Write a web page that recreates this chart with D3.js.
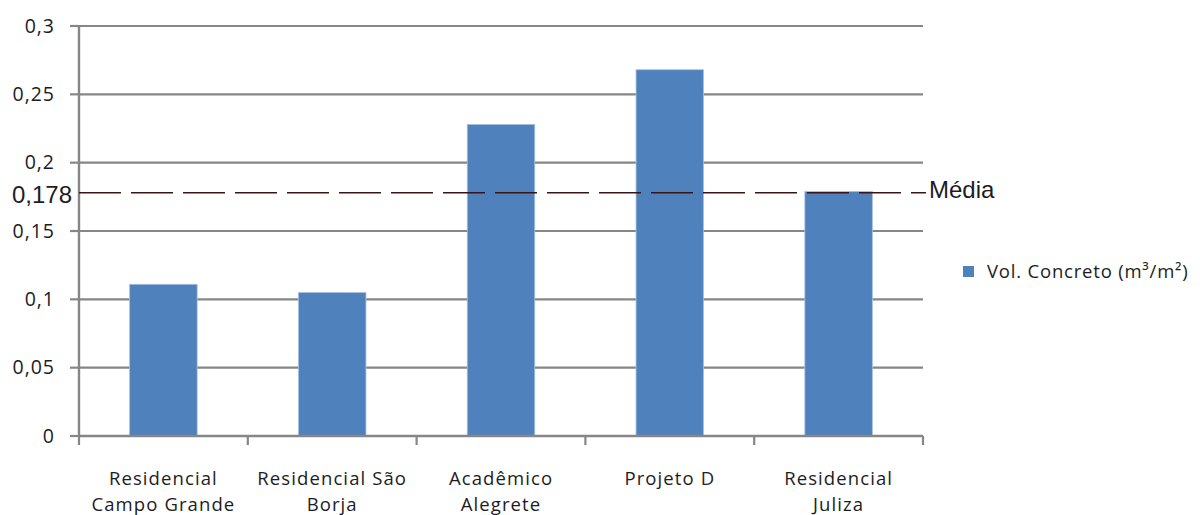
<!DOCTYPE html>
<html><head><meta charset="utf-8">
<script src="https://cdn.jsdelivr.net/npm/d3@7"></script>
<style>body{margin:0;background:#fff}svg{display:block}</style>
</head><body>
<svg id="c" width="1200" height="515"></svg>
<script>
const categories = [["Residencial","Campo Grande"],["Residencial São","Borja"],["Acadêmico","Alegrete"],["Projeto D"],["Residencial","Juliza"]];
const values = [0.111, 0.105, 0.228, 0.268, 0.179];
const yTicks = [0, 0.05, 0.1, 0.15, 0.2, 0.25, 0.3];
const yTickLabels = ["0","0,05","0,1","0,15","0,2","0,25","0,3"];
const meanValue = 0.178;
const meanLabel = "0,178";
const meanName = "Média";
const seriesName = "Vol. Concreto (m³/m²)";

const svg = d3.select("#c");
const L = 79, R = 923, T = 26, B = 436;
const x = d3.scaleBand().domain(d3.range(values.length)).range([L, R]).paddingInner(0.6).paddingOuter(0.3);
const y = d3.scaleLinear().domain([0, 0.3]).range([B, T]);
const gray = "#868686";
const font = "'Open Sans', Lato, sans-serif";
const txt = "#1c1c24";

// gridlines
svg.append("g").selectAll("line").data(yTicks.slice(1)).join("line")
  .attr("x1", L).attr("x2", R).attr("y1", d => y(d)).attr("y2", d => y(d))
  .attr("stroke", gray).attr("stroke-width", 2.2);

// y axis ticks
svg.append("g").selectAll("line").data(yTicks).join("line")
  .attr("x1", L - 9).attr("x2", L).attr("y1", d => y(d)).attr("y2", d => y(d))
  .attr("stroke", gray).attr("stroke-width", 2.2);
svg.append("g").selectAll("text").data(yTicks).join("text")
  .attr("x", 55).attr("y", d => y(d)).attr("dy", "0.35em")
  .attr("text-anchor", "end").attr("font-family", font).attr("font-size", 19.5)
  .attr("letter-spacing", 1).attr("fill", txt).text((d, i) => yTickLabels[i]);

// bars
svg.append("g").selectAll("rect").data(values).join("rect")
  .attr("x", (d, i) => x(i)).attr("width", x.bandwidth())
  .attr("y", d => y(d)).attr("height", d => B - y(d))
  .attr("fill", "#4F81BD").attr("stroke", "#a9c1e0").attr("stroke-width", 0.8);

// axes lines
svg.append("line").attr("x1", L).attr("x2", L).attr("y1", T - 1).attr("y2", B + 1)
  .attr("stroke", gray).attr("stroke-width", 2.4);
svg.append("line").attr("x1", L).attr("x2", R).attr("y1", B).attr("y2", B)
  .attr("stroke", gray).attr("stroke-width", 2.4);

// x ticks
const xt = d3.range(values.length + 1).map(i => L + i * (R - L) / values.length);
svg.append("g").selectAll("line").data(xt).join("line")
  .attr("x1", d => d).attr("x2", d => d).attr("y1", B).attr("y2", B + 9)
  .attr("stroke", gray).attr("stroke-width", 2.2);

// x labels
const xl = svg.append("g").selectAll("text").data(categories).join("text")
  .attr("font-family", font).attr("font-size", 18.5).attr("fill", txt)
  .attr("letter-spacing", 1.1).attr("text-anchor", "middle")
  .attr("transform", (d, i) => `translate(${x(i) + x.bandwidth() / 2},485)`);
xl.selectAll("tspan").data(d => d).join("tspan")
  .attr("x", 0).attr("y", (d, j) => j * 26).text(d => d);

// mean dashed line
svg.append("line").attr("x1", L).attr("x2", R + 3).attr("y1", y(meanValue)).attr("y2", y(meanValue))
  .attr("stroke", "#3a1518").attr("stroke-width", 1.6).attr("stroke-dasharray", "42,10");
svg.append("text").attr("x", 72).attr("y", y(meanValue) + 2).attr("dy", "0.35em")
  .attr("text-anchor", "end").attr("font-family", "'Liberation Sans', Arial, sans-serif")
  .attr("font-size", 24).attr("fill", txt).text(meanLabel);
svg.append("text").attr("x", 929).attr("y", y(meanValue) - 3).attr("dy", "0.35em")
  .attr("font-family", "'Liberation Sans', Arial, sans-serif")
  .attr("font-size", 24).attr("fill", txt).text(meanName);

// legend
svg.append("rect").attr("x", 963).attr("y", 266).attr("width", 11).attr("height", 11).attr("fill", "#4F81BD");
svg.append("text").attr("x", 987).attr("y", 272).attr("dy", "0.35em")
  .attr("font-family", font).attr("font-size", 18.5).attr("letter-spacing", 0.8)
  .attr("fill", txt).text(seriesName);
</script>
</body></html>
